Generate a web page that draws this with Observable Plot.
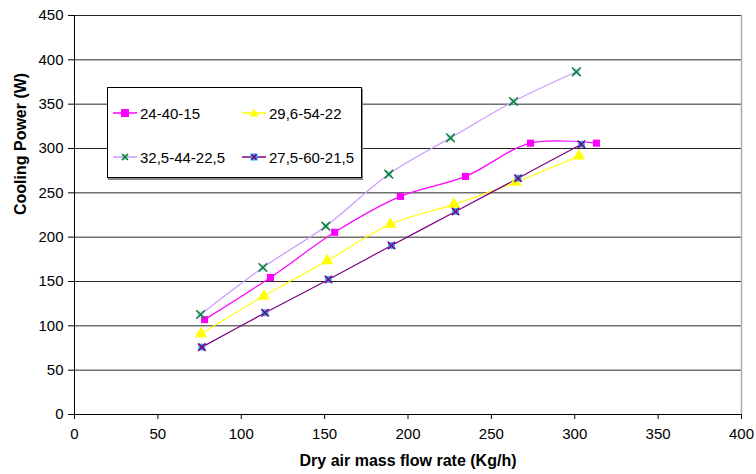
<!DOCTYPE html>
<html>
<head>
<meta charset="utf-8">
<script src="https://cdn.jsdelivr.net/npm/d3@7"></script>
<script src="https://cdn.jsdelivr.net/npm/@observablehq/plot@0.6"></script>
<style>
  body { margin: 0; background: #fff; font-family: "Liberation Sans", Arial, sans-serif; }
  #wrap { position: relative; width: 756px; height: 474px; }
  #legend { position: absolute; left: 107px; top: 87px; width: 255px; height: 91px; background: #fff;
            border: 1px solid #000; box-shadow: 1px 2px 0 #888; box-sizing: border-box; }
  .item { position: absolute; display: flex; align-items: center; font-size: 15px; color: #000; white-space: nowrap; height: 18px; }
  .item svg { margin-right: 3px; }
</style>
</head>
<body>
<div id="wrap"></div>
<script>
const seriesNames = ["24-40-15", "29,6-54-22", "32,5-44-22,5", "27,5-60-21,5"];

const s1x = [78, 117.5, 156, 195.5, 234.5, 273.5, 313];
const s1y = [107, 154.5, 205.5, 246, 268.5, 306, 306];

const s2x = [75.8, 113.5, 151.5, 189.5, 227.5, 264.5, 302.5];
const s2y = [91, 133.5, 173.5, 214.5, 237, 262, 291.5];

const s3x = [75.6, 113, 150.7, 188.5, 225.5, 263.3, 301];
const s3y = [112.8, 165.8, 212.4, 271, 312, 353, 386.5];

const s4x = [76.4, 114.3, 152.3, 190.1, 228.5, 266, 304];
const s4y = [76, 114.7, 152.3, 190.6, 229, 266.5, 304.8];

const xTicks = [0, 50, 100, 150, 200, 250, 300, 350, 400];
const yTicks = [0, 50, 100, 150, 200, 250, 300, 350, 400, 450];

const toRows = (xs, ys) => xs.map((x, i) => ({x, y: ys[i]}));
const d1 = toRows(s1x, s1y), d2 = toRows(s2x, s2y), d3 = toRows(s3x, s3y), d4 = toRows(s4x, s4y);

const chart = Plot.plot({
  width: 756,
  height: 474,
  marginLeft: 74,
  marginRight: 15,
  marginTop: 15,
  marginBottom: 60,
  style: { fontFamily: "'Liberation Sans', Arial, sans-serif", background: "#fff" },
  x: { domain: [0, 400] },
  y: { domain: [0, 450] },
  marks: [
    Plot.gridY(yTicks.filter(d => d > 0), { stroke: "#000", strokeOpacity: 0.85 }),
    Plot.ruleX([400], { stroke: "#aaa", strokeWidth: 1.5 }),
    Plot.axisY({ ticks: yTicks, tickSize: 6, tickPadding: 5, fontSize: 15, label: null }),
    Plot.axisX({ ticks: xTicks, tickSize: 5, tickPadding: 9, fontSize: 15, label: null }),
    Plot.ruleY([0], { stroke: "#000" }),
    Plot.ruleX([0], { stroke: "#000" }),
    Plot.line(d3, { x: "x", y: "y", stroke: "#CC99FF", strokeWidth: 1.2, curve: "catmull-rom" }),
    Plot.line(d1, { x: "x", y: "y", stroke: "#FF00FF", strokeWidth: 1.2, curve: "catmull-rom" }),
    Plot.line(d2, { x: "x", y: "y", stroke: "#FFFF00", strokeWidth: 1.2, curve: "catmull-rom" }),
    Plot.line(d4, { x: "x", y: "y", stroke: "#800080", strokeWidth: 1.2, curve: "catmull-rom" }),
    Plot.dot(d1, { x: "x", y: "y", symbol: "square", r: 4, fill: "#FF00FF", stroke: "none" }),
    Plot.dot(d2, { x: "x", y: "y", symbol: "triangle", r: 4.5, fill: "#FFFF00", stroke: "none" }),
    Plot.dot(d3, { x: "x", y: "y", symbol: "square", r: 3.5, fill: "#7fd6c8", fillOpacity: 0.6, stroke: "none" }),
    Plot.dot(d3, { x: "x", y: "y", symbol: "times", r: 4, stroke: "#117a3a", strokeWidth: 1.5 }),
    Plot.dot(d4, { x: "x", y: "y", symbol: "square", r: 3.8, fill: "#2aa8f0", stroke: "none" }),
    Plot.dot(d4, { x: "x", y: "y", symbol: "times", r: 3.5, stroke: "#800080", strokeWidth: 1.6 }),
    Plot.text(["Cooling Power (W)"], { frameAnchor: "left", dx: -54, rotate: -90, fontWeight: "bold", fontSize: 16 }),
    Plot.text(["Dry air mass flow rate (Kg/h)"], { frameAnchor: "bottom", dy: 51, fontWeight: "bold", fontSize: 16 })
  ]
});

const wrap = document.getElementById("wrap");
wrap.appendChild(chart);

// Legend
const legendColors = [
  { line: "#FF00FF", marker: '<rect x="8" y="5" width="8" height="8" fill="#FF00FF"/>' },
  { line: "#FFFF00", marker: '<path d="M12,4.5 L16.5,12.5 L7.5,12.5 Z" fill="#FFFF00"/>' },
  { line: "#CC99FF", marker: '<rect x="9" y="6" width="6" height="6" fill="#7fd6c8" fill-opacity="0.6"/><path d="M9,6 L15,12 M15,6 L9,12" stroke="#117a3a" stroke-width="1.5"/>' },
  { line: "#800080", marker: '<rect x="8.5" y="5.5" width="7" height="7" fill="#2aa8f0"/><path d="M9.5,6.5 L14.5,11.5 M14.5,6.5 L9.5,11.5" stroke="#800080" stroke-width="1.6"/>' }
];
const legend = document.createElement("div");
legend.id = "legend";
const pos = [[5, 16], [134, 16], [5, 60], [134, 60]];
seriesNames.forEach((name, i) => {
  const it = document.createElement("div");
  it.className = "item";
  it.style.left = pos[i][0] + "px";
  it.style.top = pos[i][1] + "px";
  it.innerHTML = `<svg width="24" height="18"><line x1="0" y1="9" x2="24" y2="9" stroke="${legendColors[i].line}" stroke-width="1.5"/>${legendColors[i].marker}</svg><span>${name}</span>`;
  legend.appendChild(it);
});
wrap.appendChild(legend);
</script>
</body>
</html>
